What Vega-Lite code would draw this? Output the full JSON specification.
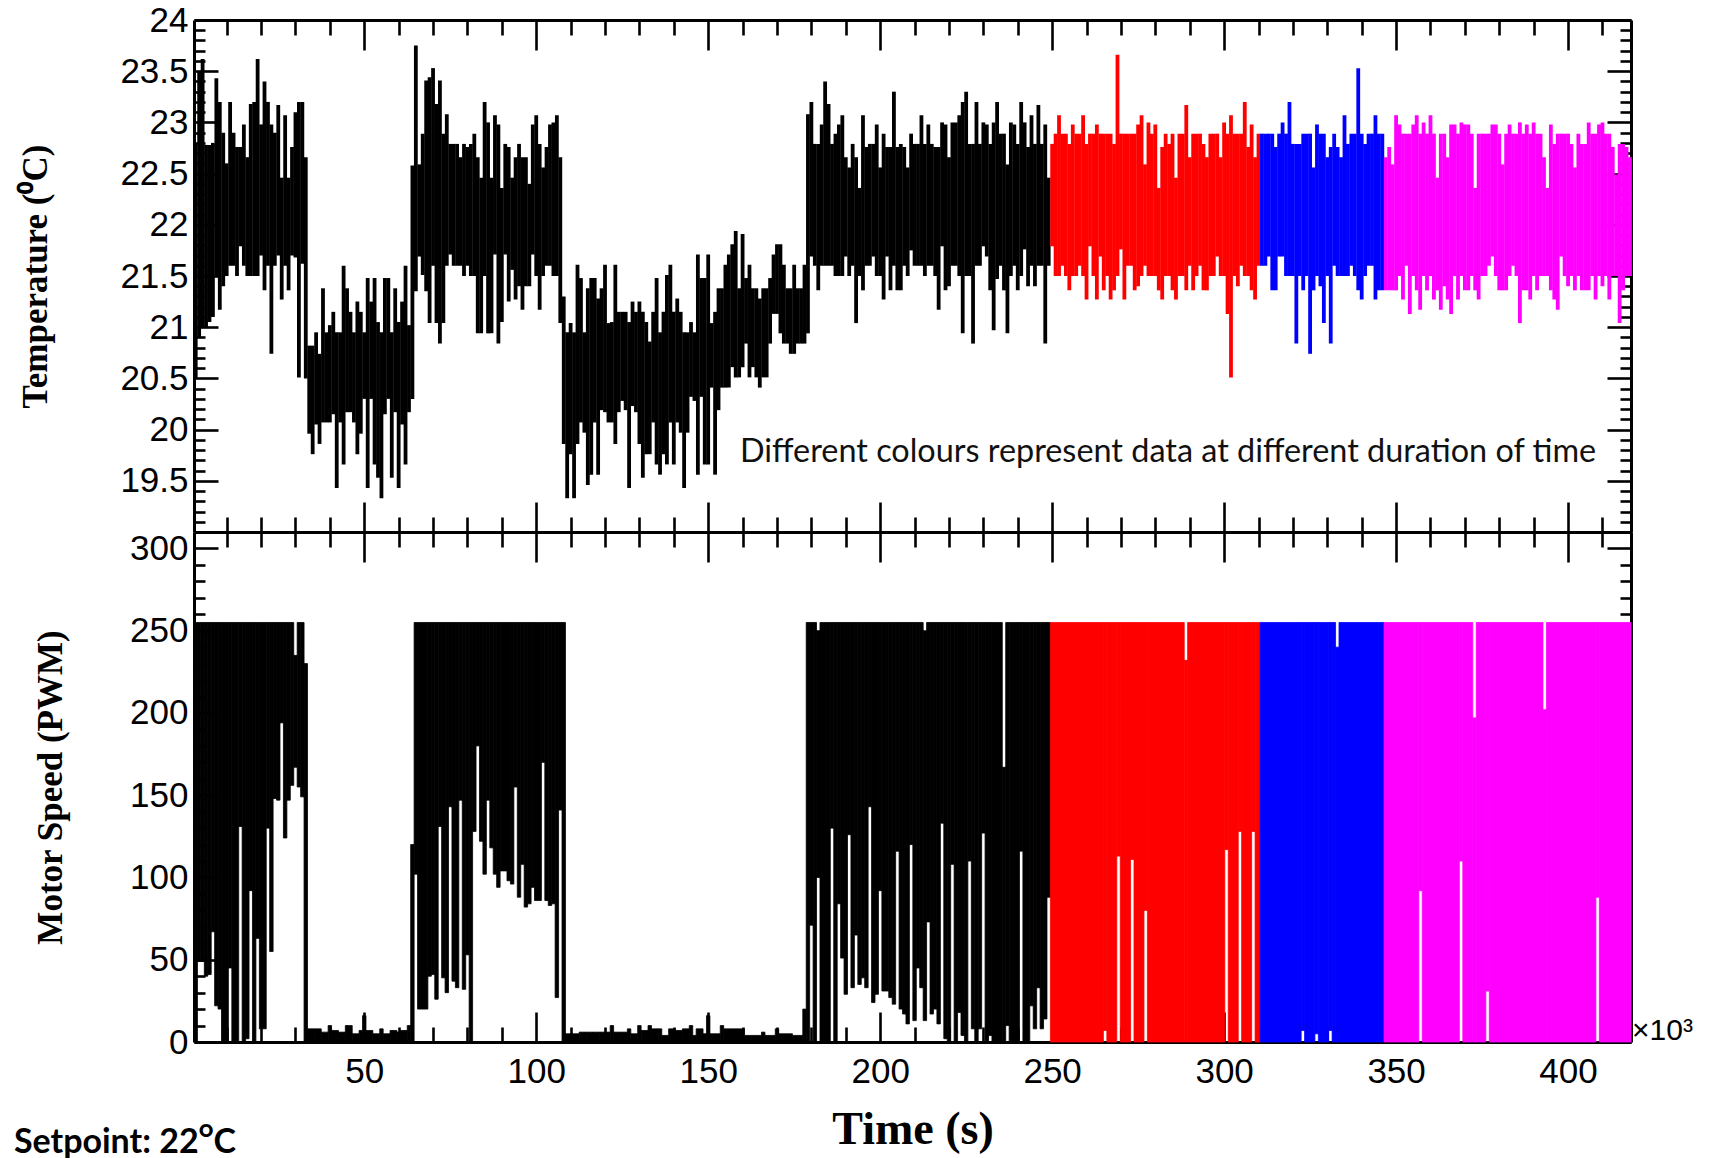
{
"$schema": "https://vega.github.io/schema/vega-lite/v6.json",
"autosize": {"type": "pad"},
"padding": {"left": 13, "top": 3, "right": 0, "bottom": 0},
"background": "white",
"bounds": "flush",
"spacing": 0,
"config": {"view": {"stroke": null}, "axis": {"grid": false, "domainColor": "black", "tickColor": "black", "domainWidth": 3, "tickWidth": 2.6, "labelColor": "black", "titleColor": "black", "labelFont": "Liberation Sans", "labelFontSize": 35, "labelFontWeight": "normal"}},
"datasets": {
"temp": [
{"t":1,"lo":20.5,"hi":22.8},{"t":2,"lo":20.9,"hi":23.5},{"t":3,"lo":21.0,"hi":23.62},{"t":4,"lo":21.0,"hi":22.78},{"t":5,"lo":21.05,"hi":22.78},{"t":6,"lo":21.1,"hi":22.8},{"t":7,"lo":21.5,"hi":23.43},{"t":8,"lo":21.17,"hi":23.2},{"t":9,"lo":21.4,"hi":22.9},{"t":10,"lo":21.5,"hi":22.6},
{"t":11,"lo":21.6,"hi":23.2},{"t":12,"lo":21.6,"hi":22.9},{"t":13,"lo":21.5,"hi":22.76},{"t":14,"lo":21.79,"hi":22.76},{"t":15,"lo":21.6,"hi":22.98},{"t":16,"lo":21.5,"hi":22.66},{"t":17,"lo":21.5,"hi":23.18},{"t":18,"lo":21.5,"hi":23.2},{"t":19,"lo":21.5,"hi":23.62},{"t":20,"lo":21.7,"hi":22.98},
{"t":21,"lo":21.36,"hi":23.4},{"t":22,"lo":21.6,"hi":23.2},{"t":23,"lo":20.74,"hi":22.98},{"t":24,"lo":21.6,"hi":22.9},{"t":25,"lo":21.7,"hi":23.17},{"t":26,"lo":21.27,"hi":22.46},{"t":27,"lo":21.6,"hi":23.07},{"t":28,"lo":21.36,"hi":22.46},{"t":29,"lo":21.7,"hi":22.76},{"t":30,"lo":21.68,"hi":23.1},
{"t":31,"lo":20.51,"hi":23.2},{"t":32,"lo":21.62,"hi":23.2},{"t":33,"lo":20.5,"hi":22.66},{"t":34,"lo":19.96,"hi":20.82},{"t":35,"lo":19.76,"hi":20.82},{"t":36,"lo":20.05,"hi":20.95},{"t":37,"lo":19.86,"hi":20.74},{"t":38,"lo":20.07,"hi":21.38},{"t":39,"lo":20.07,"hi":20.95},{"t":40,"lo":20.07,"hi":21.02},
{"t":41,"lo":20.15,"hi":21.15},{"t":42,"lo":19.43,"hi":20.95},{"t":43,"lo":20.07,"hi":20.95},{"t":44,"lo":19.66,"hi":21.6},{"t":45,"lo":20.17,"hi":21.38},{"t":46,"lo":20.17,"hi":21.15},{"t":47,"lo":20.07,"hi":20.95},{"t":48,"lo":19.76,"hi":21.25},{"t":49,"lo":19.96,"hi":21.15},{"t":50,"lo":20.3,"hi":20.95},
{"t":51,"lo":19.43,"hi":21.48},{"t":52,"lo":20.3,"hi":21.25},{"t":53,"lo":19.66,"hi":21.48},{"t":54,"lo":19.53,"hi":21.05},{"t":55,"lo":19.33,"hi":20.95},{"t":56,"lo":20.15,"hi":21.48},{"t":57,"lo":20.3,"hi":21.48},{"t":58,"lo":19.53,"hi":20.95},{"t":59,"lo":20.17,"hi":21.38},{"t":60,"lo":19.43,"hi":21.05},
{"t":61,"lo":20.05,"hi":21.25},{"t":62,"lo":19.66,"hi":21.6},{"t":63,"lo":20.17,"hi":21.02},{"t":64,"lo":20.3,"hi":22.58},{"t":65,"lo":21.35,"hi":23.75},{"t":66,"lo":21.69,"hi":22.59},{"t":67,"lo":21.51,"hi":22.89},{"t":68,"lo":21.35,"hi":23.41},{"t":69,"lo":21.04,"hi":23.44},{"t":70,"lo":21.6,"hi":23.53},
{"t":71,"lo":21.04,"hi":23.18},{"t":72,"lo":20.84,"hi":23.41},{"t":73,"lo":21.04,"hi":22.89},{"t":74,"lo":21.6,"hi":23.08},{"t":75,"lo":21.71,"hi":22.79},{"t":76,"lo":21.6,"hi":22.79},{"t":77,"lo":21.6,"hi":22.79},{"t":78,"lo":21.6,"hi":22.66},{"t":79,"lo":21.5,"hi":22.79},{"t":80,"lo":21.6,"hi":22.76},
{"t":81,"lo":21.5,"hi":22.79},{"t":82,"lo":21.5,"hi":22.89},{"t":83,"lo":20.94,"hi":22.66},{"t":84,"lo":20.94,"hi":22.46},{"t":85,"lo":21.5,"hi":23.2},{"t":86,"lo":20.94,"hi":23.0},{"t":87,"lo":20.94,"hi":22.46},{"t":88,"lo":21.71,"hi":23.07},{"t":89,"lo":20.84,"hi":22.98},{"t":90,"lo":21.05,"hi":22.36},
{"t":91,"lo":21.71,"hi":22.79},{"t":92,"lo":21.25,"hi":22.76},{"t":93,"lo":21.56,"hi":22.46},{"t":94,"lo":21.27,"hi":22.66},{"t":95,"lo":21.4,"hi":22.79},{"t":96,"lo":21.17,"hi":22.66},{"t":97,"lo":21.4,"hi":22.66},{"t":98,"lo":21.4,"hi":22.4},{"t":99,"lo":21.71,"hi":22.98},{"t":100,"lo":21.5,"hi":23.07},
{"t":101,"lo":21.17,"hi":22.79},{"t":102,"lo":21.5,"hi":22.56},{"t":103,"lo":21.6,"hi":22.76},{"t":104,"lo":21.6,"hi":22.98},{"t":105,"lo":21.5,"hi":23.0},{"t":106,"lo":21.5,"hi":23.07},{"t":107,"lo":21.04,"hi":22.66},{"t":108,"lo":19.86,"hi":21.3},{"t":109,"lo":19.33,"hi":20.95},{"t":110,"lo":19.76,"hi":21.04},
{"t":111,"lo":19.33,"hi":20.95},{"t":112,"lo":19.86,"hi":21.61},{"t":113,"lo":20.07,"hi":21.48},{"t":114,"lo":19.97,"hi":20.95},{"t":115,"lo":19.46,"hi":21.38},{"t":116,"lo":19.56,"hi":21.48},{"t":117,"lo":20.07,"hi":21.48},{"t":118,"lo":19.56,"hi":21.28},{"t":119,"lo":20.19,"hi":21.38},{"t":120,"lo":20.17,"hi":21.61},
{"t":121,"lo":20.07,"hi":21.04},{"t":122,"lo":20.07,"hi":21.05},{"t":123,"lo":19.86,"hi":21.61},{"t":124,"lo":20.17,"hi":21.15},{"t":125,"lo":20.28,"hi":21.15},{"t":126,"lo":20.19,"hi":21.15},{"t":127,"lo":19.43,"hi":21.05},{"t":128,"lo":20.23,"hi":21.25},{"t":129,"lo":20.17,"hi":21.15},{"t":130,"lo":19.86,"hi":21.25},
{"t":131,"lo":19.53,"hi":21.15},{"t":132,"lo":19.76,"hi":21.05},{"t":133,"lo":19.76,"hi":20.86},{"t":134,"lo":20.07,"hi":21.15},{"t":135,"lo":19.66,"hi":21.48},{"t":136,"lo":19.56,"hi":20.95},{"t":137,"lo":19.76,"hi":21.15},{"t":138,"lo":19.66,"hi":21.51},{"t":139,"lo":20.07,"hi":21.61},{"t":140,"lo":19.66,"hi":21.15},
{"t":141,"lo":20.07,"hi":21.28},{"t":142,"lo":19.97,"hi":21.15},{"t":143,"lo":19.43,"hi":20.95},{"t":144,"lo":19.97,"hi":20.95},{"t":145,"lo":20.32,"hi":21.05},{"t":146,"lo":20.28,"hi":20.95},{"t":147,"lo":19.56,"hi":21.71},{"t":148,"lo":20.32,"hi":21.48},{"t":149,"lo":19.66,"hi":21.48},{"t":150,"lo":19.66,"hi":21.71},
{"t":151,"lo":20.41,"hi":21.04},{"t":152,"lo":19.56,"hi":21.15},{"t":153,"lo":20.19,"hi":21.38},{"t":154,"lo":20.41,"hi":21.38},{"t":155,"lo":20.41,"hi":21.61},{"t":156,"lo":20.41,"hi":21.71},{"t":157,"lo":20.61,"hi":21.81},{"t":158,"lo":20.51,"hi":21.94},{"t":159,"lo":20.51,"hi":21.38},{"t":160,"lo":20.61,"hi":21.91},
{"t":161,"lo":20.84,"hi":21.48},{"t":162,"lo":20.51,"hi":21.61},{"t":163,"lo":20.61,"hi":21.38},{"t":164,"lo":20.51,"hi":21.38},{"t":165,"lo":20.41,"hi":21.28},{"t":166,"lo":20.51,"hi":21.38},{"t":167,"lo":20.51,"hi":21.38},{"t":168,"lo":20.84,"hi":21.48},{"t":169,"lo":21.13,"hi":21.71},{"t":170,"lo":21.13,"hi":21.81},
{"t":171,"lo":20.94,"hi":21.81},{"t":172,"lo":20.84,"hi":21.61},{"t":173,"lo":20.84,"hi":21.38},{"t":174,"lo":20.74,"hi":21.38},{"t":175,"lo":20.74,"hi":21.61},{"t":176,"lo":20.84,"hi":21.38},{"t":177,"lo":20.84,"hi":21.38},{"t":178,"lo":20.84,"hi":21.61},{"t":179,"lo":20.94,"hi":23.08},{"t":180,"lo":21.69,"hi":23.2},
{"t":181,"lo":21.6,"hi":22.79},{"t":182,"lo":21.36,"hi":22.79},{"t":183,"lo":21.6,"hi":22.98},{"t":184,"lo":21.6,"hi":23.4},{"t":185,"lo":21.6,"hi":23.18},{"t":186,"lo":21.6,"hi":22.79},{"t":187,"lo":21.5,"hi":22.89},{"t":188,"lo":21.5,"hi":22.98},{"t":189,"lo":21.5,"hi":23.07},{"t":190,"lo":21.69,"hi":22.66},
{"t":191,"lo":21.5,"hi":22.56},{"t":192,"lo":21.6,"hi":22.79},{"t":193,"lo":21.04,"hi":22.66},{"t":194,"lo":21.5,"hi":22.36},{"t":195,"lo":21.36,"hi":23.07},{"t":196,"lo":21.6,"hi":22.76},{"t":197,"lo":21.6,"hi":22.79},{"t":198,"lo":21.69,"hi":22.79},{"t":199,"lo":21.5,"hi":22.98},{"t":200,"lo":21.5,"hi":22.56},
{"t":201,"lo":21.27,"hi":22.89},{"t":202,"lo":21.69,"hi":22.76},{"t":203,"lo":21.36,"hi":22.76},{"t":204,"lo":21.6,"hi":23.3},{"t":205,"lo":21.36,"hi":22.76},{"t":206,"lo":21.36,"hi":22.79},{"t":207,"lo":21.6,"hi":22.76},{"t":208,"lo":21.5,"hi":22.56},{"t":209,"lo":21.75,"hi":22.89},{"t":210,"lo":21.6,"hi":22.79},
{"t":211,"lo":21.6,"hi":22.79},{"t":212,"lo":21.6,"hi":23.07},{"t":213,"lo":21.5,"hi":22.79},{"t":214,"lo":21.6,"hi":22.98},{"t":215,"lo":21.6,"hi":22.79},{"t":216,"lo":21.5,"hi":22.76},{"t":217,"lo":21.17,"hi":22.76},{"t":218,"lo":21.79,"hi":23.0},{"t":219,"lo":21.36,"hi":22.98},{"t":220,"lo":21.4,"hi":22.66},
{"t":221,"lo":21.6,"hi":23.0},{"t":222,"lo":21.6,"hi":23.0},{"t":223,"lo":21.5,"hi":23.07},{"t":224,"lo":20.94,"hi":23.2},{"t":225,"lo":21.5,"hi":23.3},{"t":226,"lo":21.5,"hi":22.79},{"t":227,"lo":20.84,"hi":22.79},{"t":228,"lo":21.6,"hi":23.2},{"t":229,"lo":21.6,"hi":22.79},{"t":230,"lo":21.79,"hi":23.0},
{"t":231,"lo":21.69,"hi":22.98},{"t":232,"lo":21.36,"hi":22.79},{"t":233,"lo":20.97,"hi":23.0},{"t":234,"lo":21.47,"hi":23.2},{"t":235,"lo":21.6,"hi":22.89},{"t":236,"lo":21.36,"hi":22.89},{"t":237,"lo":20.94,"hi":22.59},{"t":238,"lo":21.5,"hi":23.0},{"t":239,"lo":21.6,"hi":22.98},{"t":240,"lo":21.36,"hi":22.79},
{"t":241,"lo":21.5,"hi":23.2},{"t":242,"lo":21.76,"hi":23.0},{"t":243,"lo":21.4,"hi":22.76},{"t":244,"lo":21.6,"hi":23.07},{"t":245,"lo":21.4,"hi":22.79},{"t":246,"lo":21.6,"hi":23.17},{"t":247,"lo":21.6,"hi":22.79},{"t":248,"lo":20.84,"hi":22.98},{"t":249,"lo":21.6,"hi":22.46},{"t":250,"lo":21.79,"hi":22.79},
{"t":251,"lo":21.5,"hi":22.89},{"t":252,"lo":21.5,"hi":23.07},{"t":253,"lo":21.6,"hi":22.89},{"t":254,"lo":21.5,"hi":22.89},{"t":255,"lo":21.36,"hi":22.79},{"t":256,"lo":21.5,"hi":22.98},{"t":257,"lo":21.5,"hi":22.89},{"t":258,"lo":21.6,"hi":22.89},{"t":259,"lo":21.5,"hi":23.07},{"t":260,"lo":21.27,"hi":22.79},
{"t":261,"lo":21.79,"hi":22.89},{"t":262,"lo":21.5,"hi":22.89},{"t":263,"lo":21.27,"hi":22.98},{"t":264,"lo":21.69,"hi":22.89},{"t":265,"lo":21.36,"hi":22.89},{"t":266,"lo":21.5,"hi":22.89},{"t":267,"lo":21.27,"hi":22.89},{"t":268,"lo":21.36,"hi":22.79},{"t":269,"lo":21.5,"hi":23.66},{"t":270,"lo":21.76,"hi":22.89},
{"t":271,"lo":21.27,"hi":22.89},{"t":272,"lo":21.6,"hi":22.89},{"t":273,"lo":21.6,"hi":22.89},{"t":274,"lo":21.36,"hi":22.89},{"t":275,"lo":21.4,"hi":22.98},{"t":276,"lo":21.5,"hi":23.07},{"t":277,"lo":21.6,"hi":22.59},{"t":278,"lo":21.5,"hi":23.0},{"t":279,"lo":21.5,"hi":22.89},{"t":280,"lo":21.5,"hi":22.98},
{"t":281,"lo":21.36,"hi":22.36},{"t":282,"lo":21.27,"hi":22.76},{"t":283,"lo":21.5,"hi":22.89},{"t":284,"lo":21.5,"hi":22.79},{"t":285,"lo":21.36,"hi":22.89},{"t":286,"lo":21.27,"hi":22.46},{"t":287,"lo":21.5,"hi":22.89},{"t":288,"lo":21.5,"hi":22.89},{"t":289,"lo":21.36,"hi":23.17},{"t":290,"lo":21.6,"hi":22.66},
{"t":291,"lo":21.36,"hi":22.89},{"t":292,"lo":21.5,"hi":22.89},{"t":293,"lo":21.6,"hi":22.89},{"t":294,"lo":21.36,"hi":22.79},{"t":295,"lo":21.36,"hi":22.66},{"t":296,"lo":21.5,"hi":22.89},{"t":297,"lo":21.5,"hi":22.89},{"t":298,"lo":21.69,"hi":22.89},{"t":299,"lo":21.5,"hi":22.66},{"t":300,"lo":21.5,"hi":23.0},
{"t":301,"lo":21.13,"hi":22.89},{"t":302,"lo":20.51,"hi":23.07},{"t":303,"lo":21.5,"hi":22.89},{"t":304,"lo":21.4,"hi":22.89},{"t":305,"lo":21.6,"hi":22.89},{"t":306,"lo":21.5,"hi":23.2},{"t":307,"lo":21.5,"hi":22.76},{"t":308,"lo":21.36,"hi":22.98},{"t":309,"lo":21.27,"hi":22.66},{"t":310,"lo":21.6,"hi":22.89},
{"t":311,"lo":21.6,"hi":22.89},{"t":312,"lo":21.6,"hi":22.89},{"t":313,"lo":21.69,"hi":22.89},{"t":314,"lo":21.36,"hi":22.89},{"t":315,"lo":21.36,"hi":22.76},{"t":316,"lo":21.69,"hi":22.89},{"t":317,"lo":21.69,"hi":23.0},{"t":318,"lo":21.5,"hi":22.89},{"t":319,"lo":21.5,"hi":23.2},{"t":320,"lo":21.5,"hi":22.79},
{"t":321,"lo":20.84,"hi":22.79},{"t":322,"lo":21.5,"hi":22.79},{"t":323,"lo":21.36,"hi":22.89},{"t":324,"lo":21.5,"hi":22.89},{"t":325,"lo":20.74,"hi":22.89},{"t":326,"lo":21.36,"hi":22.56},{"t":327,"lo":21.5,"hi":22.98},{"t":328,"lo":21.4,"hi":22.89},{"t":329,"lo":21.04,"hi":22.89},{"t":330,"lo":21.5,"hi":22.66},
{"t":331,"lo":20.84,"hi":22.76},{"t":332,"lo":21.6,"hi":22.89},{"t":333,"lo":21.5,"hi":22.76},{"t":334,"lo":21.5,"hi":22.66},{"t":335,"lo":21.5,"hi":23.07},{"t":336,"lo":21.5,"hi":22.79},{"t":337,"lo":21.6,"hi":22.89},{"t":338,"lo":21.5,"hi":22.89},{"t":339,"lo":21.36,"hi":23.53},{"t":340,"lo":21.27,"hi":22.89},
{"t":341,"lo":21.5,"hi":22.79},{"t":342,"lo":21.6,"hi":22.89},{"t":343,"lo":21.6,"hi":22.89},{"t":344,"lo":21.27,"hi":23.07},{"t":345,"lo":21.36,"hi":22.89},{"t":346,"lo":21.36,"hi":22.89},{"t":347,"lo":21.36,"hi":22.66},{"t":348,"lo":21.36,"hi":22.76},{"t":349,"lo":21.36,"hi":22.59},{"t":350,"lo":21.36,"hi":23.07},
{"t":351,"lo":21.5,"hi":22.98},{"t":352,"lo":21.27,"hi":22.89},{"t":353,"lo":21.6,"hi":22.89},{"t":354,"lo":21.13,"hi":22.89},{"t":355,"lo":21.5,"hi":22.98},{"t":356,"lo":21.36,"hi":23.07},{"t":357,"lo":21.17,"hi":22.89},{"t":358,"lo":21.5,"hi":23.0},{"t":359,"lo":21.36,"hi":22.89},{"t":360,"lo":21.5,"hi":23.07},
{"t":361,"lo":21.27,"hi":22.89},{"t":362,"lo":21.36,"hi":22.46},{"t":363,"lo":21.17,"hi":22.89},{"t":364,"lo":21.4,"hi":22.89},{"t":365,"lo":21.27,"hi":22.66},{"t":366,"lo":21.13,"hi":22.98},{"t":367,"lo":21.5,"hi":22.98},{"t":368,"lo":21.27,"hi":22.89},{"t":369,"lo":21.5,"hi":23.0},{"t":370,"lo":21.36,"hi":22.98},
{"t":371,"lo":21.36,"hi":22.98},{"t":372,"lo":21.5,"hi":22.89},{"t":373,"lo":21.36,"hi":22.36},{"t":374,"lo":21.27,"hi":22.89},{"t":375,"lo":21.5,"hi":22.89},{"t":376,"lo":21.5,"hi":22.89},{"t":377,"lo":21.6,"hi":22.89},{"t":378,"lo":21.69,"hi":22.98},{"t":379,"lo":21.5,"hi":22.98},{"t":380,"lo":21.36,"hi":22.89},
{"t":381,"lo":21.36,"hi":22.59},{"t":382,"lo":21.36,"hi":22.89},{"t":383,"lo":21.5,"hi":22.98},{"t":384,"lo":21.6,"hi":22.89},{"t":385,"lo":21.5,"hi":22.89},{"t":386,"lo":21.04,"hi":23.0},{"t":387,"lo":21.36,"hi":22.89},{"t":388,"lo":21.36,"hi":22.98},{"t":389,"lo":21.27,"hi":22.89},{"t":390,"lo":21.5,"hi":23.0},
{"t":391,"lo":21.36,"hi":22.89},{"t":392,"lo":21.5,"hi":22.89},{"t":393,"lo":21.5,"hi":22.66},{"t":394,"lo":21.5,"hi":22.36},{"t":395,"lo":21.36,"hi":22.98},{"t":396,"lo":21.27,"hi":22.79},{"t":397,"lo":21.17,"hi":22.89},{"t":398,"lo":21.69,"hi":22.89},{"t":399,"lo":21.5,"hi":22.89},{"t":400,"lo":21.4,"hi":22.89},
{"t":401,"lo":21.5,"hi":22.79},{"t":402,"lo":21.36,"hi":22.56},{"t":403,"lo":21.5,"hi":22.89},{"t":404,"lo":21.36,"hi":22.79},{"t":405,"lo":21.36,"hi":22.79},{"t":406,"lo":21.36,"hi":23.0},{"t":407,"lo":21.5,"hi":22.89},{"t":408,"lo":21.27,"hi":22.89},{"t":409,"lo":21.5,"hi":22.98},{"t":410,"lo":21.4,"hi":23.0},
{"t":411,"lo":21.5,"hi":22.89},{"t":412,"lo":21.27,"hi":22.89},{"t":413,"lo":21.5,"hi":22.76},{"t":414,"lo":21.5,"hi":22.49},{"t":415,"lo":21.04,"hi":22.79},{"t":416,"lo":21.36,"hi":22.79},{"t":417,"lo":21.5,"hi":22.76},{"t":418,"lo":21.5,"hi":22.66}
],
"pwm": [
{"t0":0.5,"t1":1.5,"lo":0,"hi":255},{"t0":1.5,"t1":2.5,"lo":49,"hi":255},{"t0":2.5,"t1":3.5,"lo":49,"hi":255},{"t0":3.5,"t1":4.5,"lo":40,"hi":255},{"t0":4.5,"t1":5.5,"lo":41,"hi":255},{"t0":5.5,"t1":6.5,"lo":67,"hi":255},{"t0":6.5,"t1":7.5,"lo":22,"hi":255},{"t0":7.5,"t1":8.5,"lo":20,"hi":255},{"t0":8.5,"t1":10.5,"lo":0,"hi":255},{"t0":10.5,"t1":11.5,"lo":45,"hi":255},
{"t0":11.5,"t1":13.5,"lo":0,"hi":255},{"t0":13.5,"t1":14.5,"lo":131,"hi":255},{"t0":14.5,"t1":15.5,"lo":0,"hi":255},{"t0":15.5,"t1":16.5,"lo":2,"hi":255},{"t0":16.5,"t1":17.5,"lo":92,"hi":255},{"t0":17.5,"t1":18.5,"lo":0,"hi":255},{"t0":18.5,"t1":19.5,"lo":63,"hi":255},{"t0":19.5,"t1":21.5,"lo":8,"hi":255},{"t0":21.5,"t1":22.5,"lo":130,"hi":255},{"t0":22.5,"t1":23.5,"lo":55,"hi":255},
{"t0":23.5,"t1":24.5,"lo":148,"hi":255},{"t0":24.5,"t1":25.5,"lo":147,"hi":255},{"t0":25.5,"t1":26.5,"lo":194,"hi":255},{"t0":26.5,"t1":27.5,"lo":124,"hi":255},{"t0":27.5,"t1":28.5,"lo":147,"hi":255},{"t0":28.5,"t1":29.5,"lo":156,"hi":255},{"t0":29.5,"t1":30.5,"lo":167,"hi":235},{"t0":30.5,"t1":31.5,"lo":155,"hi":255},{"t0":31.5,"t1":32.5,"lo":149,"hi":255},{"t0":32.5,"t1":33.5,"lo":0,"hi":230},
{"t0":33.5,"t1":35.5,"lo":0,"hi":8},{"t0":35.5,"t1":37.5,"lo":0,"hi":8},{"t0":37.5,"t1":39.5,"lo":0,"hi":6},{"t0":39.5,"t1":40.5,"lo":0,"hi":10},{"t0":40.5,"t1":42.5,"lo":0,"hi":7},{"t0":42.5,"t1":44.5,"lo":0,"hi":6},{"t0":44.5,"t1":46.5,"lo":0,"hi":10},{"t0":46.5,"t1":48.5,"lo":0,"hi":5},{"t0":48.5,"t1":49.5,"lo":0,"hi":7},{"t0":49.5,"t1":50.5,"lo":0,"hi":16},
{"t0":50.5,"t1":52.5,"lo":0,"hi":7},{"t0":52.5,"t1":54.5,"lo":0,"hi":5},{"t0":54.5,"t1":55.5,"lo":0,"hi":8},{"t0":55.5,"t1":57.5,"lo":0,"hi":5},{"t0":57.5,"t1":59.5,"lo":0,"hi":7},{"t0":59.5,"t1":60.5,"lo":0,"hi":6},{"t0":60.5,"t1":62.5,"lo":0,"hi":7},{"t0":62.5,"t1":63.5,"lo":0,"hi":10},
{"t0":63.5,"t1":64.5,"lo":0,"hi":120},{"t0":64.5,"t1":65.5,"lo":102,"hi":255},{"t0":65.5,"t1":68.5,"lo":20,"hi":255},{"t0":68.5,"t1":69.5,"lo":40,"hi":255},{"t0":69.5,"t1":70.5,"lo":41,"hi":255},{"t0":70.5,"t1":71.5,"lo":26,"hi":255},{"t0":71.5,"t1":72.5,"lo":131,"hi":255},{"t0":72.5,"t1":73.5,"lo":39,"hi":255},{"t0":73.5,"t1":74.5,"lo":30,"hi":255},{"t0":74.5,"t1":75.5,"lo":143,"hi":255},
{"t0":75.5,"t1":76.5,"lo":37,"hi":255},{"t0":76.5,"t1":77.5,"lo":33,"hi":255},{"t0":77.5,"t1":78.5,"lo":147,"hi":255},{"t0":78.5,"t1":79.5,"lo":32,"hi":255},{"t0":79.5,"t1":80.5,"lo":53,"hi":255},{"t0":80.5,"t1":81.5,"lo":0,"hi":255},{"t0":81.5,"t1":82.5,"lo":128,"hi":255},{"t0":82.5,"t1":83.5,"lo":180,"hi":255},{"t0":83.5,"t1":84.5,"lo":122,"hi":255},{"t0":84.5,"t1":85.5,"lo":102,"hi":255},
{"t0":85.5,"t1":86.5,"lo":147,"hi":255},{"t0":86.5,"t1":87.5,"lo":118,"hi":255},{"t0":87.5,"t1":88.5,"lo":102,"hi":255},{"t0":88.5,"t1":89.5,"lo":94,"hi":255},{"t0":89.5,"t1":91.5,"lo":104,"hi":255},{"t0":91.5,"t1":92.5,"lo":98,"hi":255},{"t0":92.5,"t1":93.5,"lo":96,"hi":255},{"t0":93.5,"t1":94.5,"lo":155,"hi":255},{"t0":94.5,"t1":95.5,"lo":88,"hi":255},{"t0":95.5,"t1":96.5,"lo":108,"hi":255},
{"t0":96.5,"t1":97.5,"lo":82,"hi":255},{"t0":97.5,"t1":98.5,"lo":84,"hi":255},{"t0":98.5,"t1":99.5,"lo":94,"hi":255},{"t0":99.5,"t1":101.5,"lo":86,"hi":255},{"t0":101.5,"t1":102.5,"lo":170,"hi":255},{"t0":102.5,"t1":103.5,"lo":86,"hi":255},{"t0":103.5,"t1":104.5,"lo":83,"hi":255},{"t0":104.5,"t1":105.5,"lo":84,"hi":255},{"t0":105.5,"t1":106.5,"lo":27,"hi":255},{"t0":106.5,"t1":107.5,"lo":141,"hi":255},
{"t0":107.5,"t1":108.5,"lo":0,"hi":255},
{"t0":108.5,"t1":110.5,"lo":0,"hi":5},{"t0":110.5,"t1":112.5,"lo":0,"hi":5},{"t0":112.5,"t1":114.5,"lo":0,"hi":6},{"t0":114.5,"t1":116.5,"lo":0,"hi":6},{"t0":116.5,"t1":118.5,"lo":0,"hi":6},{"t0":118.5,"t1":120.5,"lo":0,"hi":6},{"t0":120.5,"t1":121.5,"lo":0,"hi":6},{"t0":121.5,"t1":122.5,"lo":0,"hi":10},{"t0":122.5,"t1":124.5,"lo":0,"hi":6},{"t0":124.5,"t1":126.5,"lo":0,"hi":6},
{"t0":126.5,"t1":127.5,"lo":0,"hi":8},{"t0":127.5,"t1":129.5,"lo":0,"hi":5},{"t0":129.5,"t1":130.5,"lo":0,"hi":10},{"t0":130.5,"t1":132.5,"lo":0,"hi":7},{"t0":132.5,"t1":133.5,"lo":0,"hi":10},{"t0":133.5,"t1":135.5,"lo":0,"hi":8},{"t0":135.5,"t1":136.5,"lo":0,"hi":8},{"t0":136.5,"t1":138.5,"lo":0,"hi":4},{"t0":138.5,"t1":140.5,"lo":0,"hi":8},{"t0":140.5,"t1":142.5,"lo":0,"hi":7},
{"t0":142.5,"t1":144.5,"lo":0,"hi":8},{"t0":144.5,"t1":145.5,"lo":0,"hi":10},{"t0":145.5,"t1":146.5,"lo":0,"hi":4},{"t0":146.5,"t1":148.5,"lo":0,"hi":8},{"t0":148.5,"t1":149.5,"lo":0,"hi":5},{"t0":149.5,"t1":150.5,"lo":0,"hi":16},{"t0":150.5,"t1":153.5,"lo":0,"hi":5},{"t0":153.5,"t1":154.5,"lo":0,"hi":10},{"t0":154.5,"t1":160.5,"lo":0,"hi":8},{"t0":160.5,"t1":165.5,"lo":0,"hi":4},
{"t0":165.5,"t1":166.5,"lo":0,"hi":6},{"t0":166.5,"t1":169.5,"lo":0,"hi":4},{"t0":169.5,"t1":170.5,"lo":0,"hi":8},{"t0":170.5,"t1":174.5,"lo":0,"hi":5},{"t0":174.5,"t1":177.5,"lo":0,"hi":4},{"t0":177.5,"t1":178.5,"lo":0,"hi":20},
{"t0":178.5,"t1":179.5,"lo":0,"hi":255},{"t0":179.5,"t1":180.5,"lo":71,"hi":255},{"t0":180.5,"t1":181.5,"lo":0,"hi":255},{"t0":181.5,"t1":182.5,"lo":100,"hi":250},{"t0":182.5,"t1":185.5,"lo":0,"hi":255},{"t0":185.5,"t1":186.5,"lo":130,"hi":255},{"t0":186.5,"t1":187.5,"lo":0,"hi":255},{"t0":187.5,"t1":188.5,"lo":84,"hi":255},{"t0":188.5,"t1":189.5,"lo":51,"hi":255},{"t0":189.5,"t1":190.5,"lo":29,"hi":255},
{"t0":190.5,"t1":191.5,"lo":126,"hi":255},{"t0":191.5,"t1":192.5,"lo":33,"hi":255},{"t0":192.5,"t1":193.5,"lo":65,"hi":255},{"t0":193.5,"t1":194.5,"lo":35,"hi":255},{"t0":194.5,"t1":195.5,"lo":39,"hi":255},{"t0":195.5,"t1":196.5,"lo":33,"hi":255},{"t0":196.5,"t1":197.5,"lo":143,"hi":255},{"t0":197.5,"t1":198.5,"lo":24,"hi":255},{"t0":198.5,"t1":199.5,"lo":29,"hi":255},{"t0":199.5,"t1":200.5,"lo":92,"hi":255},
{"t0":200.5,"t1":202.5,"lo":31,"hi":255},{"t0":202.5,"t1":203.5,"lo":27,"hi":255},{"t0":203.5,"t1":204.5,"lo":23,"hi":255},{"t0":204.5,"t1":205.5,"lo":116,"hi":255},{"t0":205.5,"t1":206.5,"lo":20,"hi":255},{"t0":206.5,"t1":207.5,"lo":17,"hi":255},{"t0":207.5,"t1":208.5,"lo":11,"hi":255},{"t0":208.5,"t1":209.5,"lo":120,"hi":255},{"t0":209.5,"t1":210.5,"lo":13,"hi":255},{"t0":210.5,"t1":211.5,"lo":45,"hi":255},
{"t0":211.5,"t1":212.5,"lo":33,"hi":255},{"t0":212.5,"t1":213.5,"lo":13,"hi":250},{"t0":213.5,"t1":214.5,"lo":73,"hi":255},{"t0":214.5,"t1":215.5,"lo":17,"hi":255},{"t0":215.5,"t1":216.5,"lo":20,"hi":255},{"t0":216.5,"t1":217.5,"lo":11,"hi":255},{"t0":217.5,"t1":218.5,"lo":133,"hi":255},{"t0":218.5,"t1":219.5,"lo":2,"hi":255},{"t0":219.5,"t1":220.5,"lo":0,"hi":255},{"t0":220.5,"t1":221.5,"lo":108,"hi":255},
{"t0":221.5,"t1":222.5,"lo":0,"hi":255},{"t0":222.5,"t1":223.5,"lo":18,"hi":255},{"t0":223.5,"t1":224.5,"lo":4,"hi":255},{"t0":224.5,"t1":225.5,"lo":0,"hi":255},{"t0":225.5,"t1":226.5,"lo":110,"hi":255},{"t0":226.5,"t1":227.5,"lo":8,"hi":255},{"t0":227.5,"t1":228.5,"lo":0,"hi":255},{"t0":228.5,"t1":229.5,"lo":8,"hi":255},{"t0":229.5,"t1":230.5,"lo":127,"hi":255},{"t0":230.5,"t1":231.5,"lo":0,"hi":255},
{"t0":231.5,"t1":232.5,"lo":4,"hi":255},{"t0":232.5,"t1":235.5,"lo":0,"hi":255},{"t0":235.5,"t1":236.5,"lo":0,"hi":167},{"t0":236.5,"t1":237.5,"lo":10,"hi":255},{"t0":237.5,"t1":240.5,"lo":0,"hi":255},{"t0":240.5,"t1":241.5,"lo":116,"hi":255},{"t0":241.5,"t1":243.5,"lo":0,"hi":255},{"t0":243.5,"t1":244.5,"lo":22,"hi":255},{"t0":244.5,"t1":245.5,"lo":8,"hi":255},{"t0":245.5,"t1":246.5,"lo":33,"hi":255},
{"t0":246.5,"t1":247.5,"lo":8,"hi":255},{"t0":247.5,"t1":248.5,"lo":14,"hi":255},{"t0":248.5,"t1":249.5,"lo":88,"hi":255},
{"t0":249.5,"t1":264.9,"lo":0,"hi":255},{"t0":264.9,"t1":265.9,"lo":7,"hi":255},{"t0":265.9,"t1":268.8,"lo":0,"hi":255},{"t0":268.8,"t1":269.8,"lo":113,"hi":255},{"t0":269.8,"t1":272.8,"lo":0,"hi":255},{"t0":272.8,"t1":273.8,"lo":111,"hi":255},{"t0":273.8,"t1":276.7,"lo":0,"hi":255},{"t0":276.7,"t1":277.7,"lo":80,"hi":255},{"t0":277.7,"t1":288.4,"lo":0,"hi":255},{"t0":288.4,"t1":289.4,"lo":0,"hi":232},
{"t0":289.4,"t1":300.2,"lo":0,"hi":255},{"t0":300.2,"t1":301.2,"lo":117,"hi":255},{"t0":301.2,"t1":304.1,"lo":0,"hi":255},{"t0":304.1,"t1":305.1,"lo":128,"hi":255},{"t0":305.1,"t1":308.0,"lo":0,"hi":255},{"t0":308.0,"t1":309.0,"lo":128,"hi":255},{"t0":309.0,"t1":310.5,"lo":0,"hi":255},
{"t0":310.5,"t1":322.4,"lo":0,"hi":255},{"t0":322.4,"t1":323.4,"lo":7,"hi":255},{"t0":323.4,"t1":326.4,"lo":0,"hi":255},{"t0":326.4,"t1":327.4,"lo":5,"hi":255},{"t0":327.4,"t1":330.4,"lo":0,"hi":255},{"t0":330.4,"t1":331.4,"lo":7,"hi":255},{"t0":331.4,"t1":332.4,"lo":0,"hi":255},{"t0":332.4,"t1":333.4,"lo":0,"hi":240},{"t0":333.4,"t1":346.5,"lo":0,"hi":255},
{"t0":346.5,"t1":356.6,"lo":0,"hi":255},{"t0":356.6,"t1":357.6,"lo":92,"hi":255},{"t0":357.6,"t1":368.4,"lo":0,"hi":255},{"t0":368.4,"t1":369.4,"lo":110,"hi":255},{"t0":369.4,"t1":372.3,"lo":0,"hi":255},{"t0":372.3,"t1":373.3,"lo":0,"hi":197},{"t0":373.3,"t1":376.1,"lo":0,"hi":255},{"t0":376.1,"t1":377.1,"lo":31,"hi":255},{"t0":377.1,"t1":392.7,"lo":0,"hi":255},{"t0":392.7,"t1":393.7,"lo":0,"hi":202},
{"t0":393.7,"t1":408.1,"lo":0,"hi":255},{"t0":408.1,"t1":409.1,"lo":88,"hi":255},{"t0":409.1,"t1":418.3,"lo":0,"hi":255}
]
},
"vconcat": [
{
"width": 1437, "height": 512,
"resolve": {"axis": {"x": "independent", "y": "independent"}},
"layer": [
{
"data": {"name": "temp"},
"mark": {"type": "rule", "strokeWidth": 3.8},
"encoding": {
"x": {"field": "t", "type": "quantitative", "scale": {"domain": [0.5, 418.3], "nice": false, "zero": false},
 "axis": {"orient": "bottom", "title": null, "labels": false, "values": [10,20,30,40,50,60,70,80,90,100,110,120,130,140,150,160,170,180,190,200,210,220,230,240,250,260,270,280,290,300,310,320,330,340,350,360,370,380,390,400,410], "tickSize": {"condition": {"test": "datum.value % 50 === 0", "value": -30}, "value": -15}}},
"y": {"field": "lo", "type": "quantitative", "scale": {"domain": [19, 24], "nice": false, "zero": false},
 "axis": {"orient": "left", "title": "Temperature (⁰C)", "titleFont": "Liberation Serif", "titleFontSize": 35, "titleFontWeight": "bold", "titlePadding": 66, "format": "~g", "labelPadding": 30,
  "labelExpr": "(abs(datum.value*2 - round(datum.value*2)) < 0.001 && datum.value > 19.01) ? datum.label : ''",
  "values": [19,19.1,19.2,19.3,19.4,19.5,19.6,19.7,19.8,19.9,20,20.1,20.2,20.3,20.4,20.5,20.6,20.7,20.8,20.9,21,21.1,21.2,21.3,21.4,21.5,21.6,21.7,21.8,21.9,22,22.1,22.2,22.3,22.4,22.5,22.6,22.7,22.8,22.9,23,23.1,23.2,23.3,23.4,23.5,23.6,23.7,23.8,23.9,24],
  "tickSize": {"condition": {"test": "abs(datum.value*2 - round(datum.value*2)) < 0.001", "value": -24}, "value": -11}}},
"y2": {"field": "hi"},
"color": {"field": "t", "type": "quantitative", "scale": {"type": "threshold", "domain": [249.5, 310.5, 346.5], "range": ["#000000", "#ff0000", "#0000ff", "#ff00ff"]}, "legend": null}
}
},
{
"data": {"values": [{"note": "Different colours represent data at different duration of time"}]},
"mark": {"type": "text", "font": "Lato", "fontSize": 32.4, "align": "center", "baseline": "alphabetic", "color": "#111111"},
"encoding": {
"x": {"datum": 283.7, "type": "quantitative",
 "axis": {"orient": "top", "title": null, "labels": false, "values": [10,20,30,40,50,60,70,80,90,100,110,120,130,140,150,160,170,180,190,200,210,220,230,240,250,260,270,280,290,300,310,320,330,340,350,360,370,380,390,400,410], "tickSize": {"condition": {"test": "datum.value % 50 === 0", "value": -30}, "value": -15}}},
"y": {"datum": 19.68, "type": "quantitative",
 "axis": {"orient": "right", "title": null, "labels": false,
  "values": [19,19.1,19.2,19.3,19.4,19.5,19.6,19.7,19.8,19.9,20,20.1,20.2,20.3,20.4,20.5,20.6,20.7,20.8,20.9,21,21.1,21.2,21.3,21.4,21.5,21.6,21.7,21.8,21.9,22,22.1,22.2,22.3,22.4,22.5,22.6,22.7,22.8,22.9,23,23.1,23.2,23.3,23.4,23.5,23.6,23.7,23.8,23.9,24],
  "tickSize": {"condition": {"test": "abs(datum.value*2 - round(datum.value*2)) < 0.001", "value": -24}, "value": -11}}},
"text": {"field": "note"}
}
}
]
},
{
"width": 1437, "height": 510,
"resolve": {"axis": {"x": "independent", "y": "independent"}},
"layer": [
{
"data": {"name": "pwm"},
"mark": {"type": "bar", "strokeWidth": 0.8},
"encoding": {
"x": {"field": "t0", "type": "quantitative", "scale": {"domain": [0.5, 418.3], "nice": false, "zero": false},
 "axis": {"orient": "bottom", "title": "Time (s)", "titleFont": "Liberation Serif", "titleFontSize": 46, "titleFontWeight": "bold", "titlePadding": 18, "labelPadding": 42,
  "labelExpr": "datum.value % 50 === 0 ? datum.label : ''",
  "values": [10,20,30,40,50,60,70,80,90,100,110,120,130,140,150,160,170,180,190,200,210,220,230,240,250,260,270,280,290,300,310,320,330,340,350,360,370,380,390,400,410], "tickSize": {"condition": {"test": "datum.value % 50 === 0", "value": -30}, "value": -15}}},
"x2": {"field": "t1"},
"y": {"field": "lo", "type": "quantitative", "scale": {"domain": [0, 310], "nice": false, "zero": false},
 "axis": {"orient": "left", "title": "Motor Speed (PWM)", "titleFont": "Liberation Serif", "titleFontSize": 35, "titleFontWeight": "bold", "titlePadding": 61, "labelPadding": 30, "format": "d",
  "labelExpr": "datum.value % 50 === 0 ? datum.label : ''",
  "values": [0,10,20,30,40,50,60,70,80,90,100,110,120,130,140,150,160,170,180,190,200,210,220,230,240,250,260,270,280,290,300],
  "tickSize": {"condition": {"test": "datum.value % 50 === 0", "value": -24}, "value": -11}}},
"y2": {"field": "hi"},
"color": {"field": "t0", "type": "quantitative", "scale": {"type": "threshold", "domain": [249.5, 310.5, 346.5], "range": ["#000000", "#ff0000", "#0000ff", "#ff00ff"]}, "legend": null},
"stroke": {"field": "t0", "type": "quantitative", "scale": {"type": "threshold", "domain": [249.5, 310.5, 346.5], "range": ["#000000", "#ff0000", "#0000ff", "#ff00ff"]}, "legend": null}
}
},
{
"data": {"values": [{"note": "×10³"}]},
"mark": {"type": "text", "font": "Liberation Sans", "fontSize": 30, "align": "left", "baseline": "alphabetic", "dx": 1, "dy": -2, "color": "black"},
"encoding": {
"x": {"datum": 418.3, "type": "quantitative",
 "axis": {"orient": "top", "title": null, "labels": false, "values": [10,20,30,40,50,60,70,80,90,100,110,120,130,140,150,160,170,180,190,200,210,220,230,240,250,260,270,280,290,300,310,320,330,340,350,360,370,380,390,400,410], "tickSize": {"condition": {"test": "datum.value % 50 === 0", "value": -30}, "value": -15}}},
"y": {"datum": 0, "type": "quantitative",
 "axis": {"orient": "right", "title": null, "labels": false,
  "values": [0,10,20,30,40,50,60,70,80,90,100,110,120,130,140,150,160,170,180,190,200,210,220,230,240,250,260,270,280,290,300],
  "tickSize": {"condition": {"test": "datum.value % 50 === 0", "value": -24}, "value": -11}}},
"text": {"field": "note"}
}
},
{
"data": {"values": [{"note": "Setpoint: 22ᴼC"}]},
"mark": {"type": "text", "font": "Lato", "fontWeight": "bold", "fontSize": 34, "align": "left", "baseline": "alphabetic", "color": "black"},
"encoding": {
"x": {"datum": -51.86, "type": "quantitative", "axis": null},
"y": {"datum": -67.5, "type": "quantitative", "axis": null},
"text": {"field": "note"}
}
}
]
}
]
}
